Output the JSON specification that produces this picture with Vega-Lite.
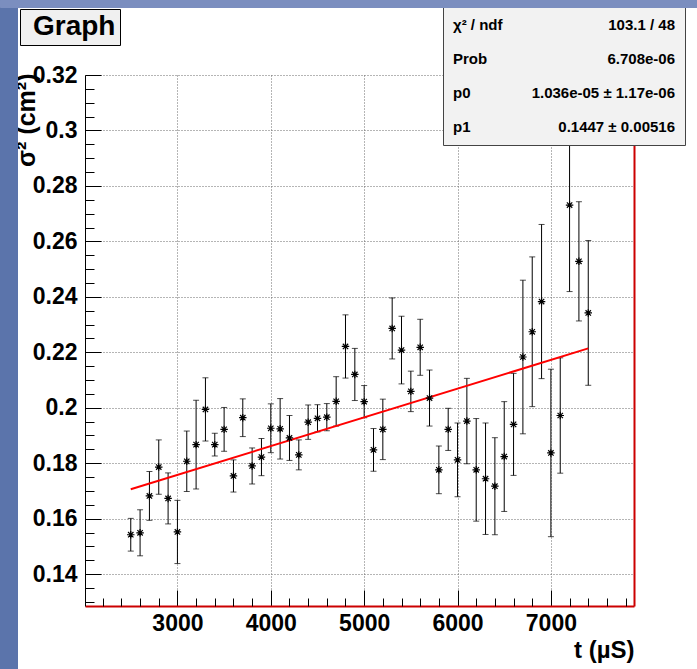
{
  "$schema": "https://vega.github.io/schema/vega-lite/v6.json",
  "width": 549,
  "height": 531,
  "autosize": {"type": "none"},
  "padding": {"left": 85, "top": 75, "right": 63, "bottom": 63},
  "background": "#ffffff",
  "config": {
    "view": {"stroke": null},
    "font": "Liberation Sans",
    "axis": {
      "labelFont": "Liberation Sans",
      "labelFontWeight": "bold",
      "labelColor": "#000000",
      "titleFont": "Liberation Sans",
      "titleFontWeight": "bold",
      "titleColor": "#000000",
      "tickColor": "#000000",
      "domainColor": "#000000",
      "gridColor": "#6a6a6a",
      "gridDash": [1, 2],
      "gridWidth": 1
    },
    "legend": {
      "labelFont": "Liberation Sans",
      "labelFontWeight": "bold",
      "labelColor": "#000000"
    }
  },
  "datasets": {
    "pts": [
      {"t": 2500, "s2": 0.1542, "err": 0.0059},
      {"t": 2600, "s2": 0.1549, "err": 0.0083},
      {"t": 2700, "s2": 0.1682, "err": 0.0088},
      {"t": 2800, "s2": 0.1786, "err": 0.0098},
      {"t": 2900, "s2": 0.1673, "err": 0.0092},
      {"t": 3000, "s2": 0.1552, "err": 0.0114},
      {"t": 3100, "s2": 0.1807, "err": 0.0109},
      {"t": 3200, "s2": 0.1867, "err": 0.0160},
      {"t": 3300, "s2": 0.1994, "err": 0.0114},
      {"t": 3400, "s2": 0.1867, "err": 0.0041},
      {"t": 3500, "s2": 0.1922, "err": 0.0079},
      {"t": 3600, "s2": 0.1754, "err": 0.0058},
      {"t": 3700, "s2": 0.1964, "err": 0.0068},
      {"t": 3800, "s2": 0.1790, "err": 0.0065},
      {"t": 3900, "s2": 0.1822, "err": 0.0067},
      {"t": 4000, "s2": 0.1926, "err": 0.0088},
      {"t": 4100, "s2": 0.1924, "err": 0.0109},
      {"t": 4200, "s2": 0.1891, "err": 0.0081},
      {"t": 4300, "s2": 0.1830, "err": 0.0054},
      {"t": 4400, "s2": 0.1948, "err": 0.0062},
      {"t": 4500, "s2": 0.1962, "err": 0.0049},
      {"t": 4600, "s2": 0.1966, "err": 0.0049},
      {"t": 4700, "s2": 0.2023, "err": 0.0089},
      {"t": 4800, "s2": 0.2221, "err": 0.0114},
      {"t": 4900, "s2": 0.2120, "err": 0.0094},
      {"t": 5000, "s2": 0.2022, "err": 0.0058},
      {"t": 5100, "s2": 0.1848, "err": 0.0077},
      {"t": 5200, "s2": 0.1922, "err": 0.0109},
      {"t": 5300, "s2": 0.2286, "err": 0.0110},
      {"t": 5400, "s2": 0.2208, "err": 0.0122},
      {"t": 5500, "s2": 0.2059, "err": 0.0073},
      {"t": 5600, "s2": 0.2218, "err": 0.0101},
      {"t": 5700, "s2": 0.2035, "err": 0.0101},
      {"t": 5800, "s2": 0.1776, "err": 0.0086},
      {"t": 5900, "s2": 0.1922, "err": 0.0076},
      {"t": 6000, "s2": 0.1812, "err": 0.0133},
      {"t": 6100, "s2": 0.1952, "err": 0.0154},
      {"t": 6200, "s2": 0.1776, "err": 0.0185},
      {"t": 6300, "s2": 0.1744, "err": 0.0201},
      {"t": 6400, "s2": 0.1717, "err": 0.0175},
      {"t": 6500, "s2": 0.1824, "err": 0.0198},
      {"t": 6600, "s2": 0.1940, "err": 0.0184},
      {"t": 6700, "s2": 0.2183, "err": 0.0277},
      {"t": 6800, "s2": 0.2274, "err": 0.0270},
      {"t": 6900, "s2": 0.2383, "err": 0.0278},
      {"t": 7000, "s2": 0.1837, "err": 0.0302},
      {"t": 7100, "s2": 0.1972, "err": 0.0208},
      {"t": 7200, "s2": 0.2731, "err": 0.0312},
      {"t": 7300, "s2": 0.2528, "err": 0.0215},
      {"t": 7400, "s2": 0.2342, "err": 0.0261}
    ],
    "fit": [
      {"t": 2500, "fit": 0.1706},
      {"t": 7400, "fit": 0.2214}
    ],
    "stats": [
      {"stat": "χ² / ndf", "val": "103.1 / 48"},
      {"stat": "Prob", "val": "6.708e-06"},
      {"stat": "p0", "val": "1.036e-05 ± 1.17e-06"},
      {"stat": "p1", "val": "0.1447 ± 0.00516"}
    ],
    "gtitle": [
      {"name": "Graph"}
    ],
    "frame": [
      {"side": "left"}
    ],
    "frametop": [
      {"side": "top"}
    ]
  },
  "resolve": {"axis": {"x": "independent", "y": "independent"}},
  "layer": [
    {
      "data": {"name": "pts"},
      "mark": {"type": "errorbar", "color": "#000000", "thickness": 1, "ticks": {"size": 6, "thickness": 1, "color": "#000000"}},
      "encoding": {
        "x": {
          "field": "t", "type": "quantitative",
          "scale": {"domain": [2010, 7890], "nice": false, "zero": false},
          "axis": {
            "orient": "bottom",
            "values": [3000, 4000, 5000, 6000, 7000],
            "format": "d",
            "grid": true,
            "tickSize": -16,
            "tickWidth": 1,
            "labelFontSize": 23,
            "labelPadding": 22,
            "domainColor": "#cc0000",
            "domainWidth": 2,
            "title": "t (µS)",
            "titleFontSize": 24,
            "titleAlign": "right",
            "titleBaseline": "alphabetic",
            "titleX": 549,
            "titleY": 51
          }
        },
        "y": {
          "field": "s2", "type": "quantitative",
          "scale": {"domain": [0.1285, 0.32], "nice": false, "zero": false},
          "axis": {
            "orient": "left",
            "values": [0.14, 0.16, 0.18, 0.2, 0.22, 0.24, 0.26, 0.28, 0.3, 0.32],
            "format": ".2~f",
            "grid": true,
            "tickSize": -16,
            "tickWidth": 1,
            "labelFontSize": 23,
            "labelPadding": 24,
            "domainWidth": 1,
            "title": "σ² (cm²)",
            "titleFontSize": 25,
            "titleAngle": -90,
            "titleAlign": "right",
            "titleBaseline": "alphabetic",
            "titleX": -51,
            "titleY": -2
          }
        },
        "yError": {"field": "err"}
      }
    },
    {
      "data": {"name": "fit"},
      "mark": {"type": "line", "color": "#ff0000", "strokeWidth": 2},
      "encoding": {
        "x": {
          "field": "t", "type": "quantitative",
          "axis": {
            "orient": "bottom",
            "values": [2200, 2400, 2600, 2800, 3200, 3400, 3600, 3800, 4200, 4400, 4600, 4800, 5200, 5400, 5600, 5800, 6200, 6400, 6600, 6800, 7200, 7400, 7600, 7800],
            "tickSize": -8,
            "labels": false,
            "domain": false,
            "grid": false,
            "title": null
          }
        },
        "y": {
          "field": "fit", "type": "quantitative",
          "axis": {
            "orient": "left",
            "values": [0.13, 0.135, 0.145, 0.15, 0.155, 0.165, 0.17, 0.175, 0.185, 0.19, 0.195, 0.205, 0.21, 0.215, 0.225, 0.23, 0.235, 0.245, 0.25, 0.255, 0.265, 0.27, 0.275, 0.285, 0.29, 0.295, 0.305, 0.31, 0.315],
            "tickSize": -9,
            "labels": false,
            "domain": false,
            "grid": false,
            "title": null
          }
        }
      }
    },
    {
      "data": {"name": "pts"},
      "mark": {
        "type": "point",
        "shape": "M-1,0L1,0M0,-1L0,1M-0.72,-0.72L0.72,0.72M-0.72,0.72L0.72,-0.72",
        "filled": false,
        "stroke": "#000000",
        "strokeWidth": 1.2,
        "size": 56,
        "opacity": 1
      },
      "encoding": {
        "x": {"field": "t", "type": "quantitative", "axis": null},
        "y": {
          "field": "s2", "type": "quantitative",
          "axis": {
            "orient": "right",
            "domainColor": "#cc0000",
            "domainWidth": 2,
            "ticks": false,
            "labels": false,
            "grid": false,
            "title": null
          }
        }
      }
    },
    {
      "data": {"name": "stats"},
      "mark": {"type": "point", "opacity": 0},
      "encoding": {
        "color": {
          "field": "val", "type": "nominal",
          "sort": ["103.1 / 48", "6.708e-06", "1.036e-05 ± 1.17e-06", "0.1447 ± 0.00516"],
          "scale": {"range": ["#000000"]},
          "legend": {
            "orient": "none",
            "legendX": 358,
            "legendY": -68,
            "title": null,
            "labelFontSize": 15,
            "labelAlign": "right",
            "labelOffset": 207,
            "labelLimit": 0,
            "symbolOpacity": 0,
            "symbolSize": 0,
            "symbolStrokeWidth": 0,
            "rowPadding": 18,
            "padding": 10,
            "fillColor": "#f2f2f2",
            "strokeColor": "#444444"
          }
        }
      }
    },
    {
      "data": {"name": "stats"},
      "mark": {"type": "point", "opacity": 0},
      "encoding": {
        "shape": {
          "field": "stat", "type": "nominal",
          "sort": ["χ² / ndf", "Prob", "p0", "p1"],
          "legend": {
            "orient": "none",
            "legendX": 343,
            "legendY": -68,
            "title": null,
            "labelFontSize": 15,
            "labelAlign": "left",
            "labelOffset": 0,
            "labelLimit": 0,
            "symbolOpacity": 0,
            "symbolSize": 0,
            "symbolStrokeWidth": 0,
            "rowPadding": 18,
            "padding": 10
          }
        }
      }
    },
    {
      "data": {"name": "gtitle"},
      "mark": {"type": "point", "opacity": 0},
      "encoding": {
        "fill": {
          "field": "name", "type": "nominal",
          "scale": {"range": ["#000000"]},
          "legend": {
            "orient": "none",
            "legendX": -65,
            "legendY": -66,
            "title": null,
            "labelFontSize": 28,
            "labelOffset": -19,
            "labelLimit": 0,
            "labelExpr": "datum.label + '\u00a0'",
            "symbolOpacity": 0,
            "symbolSize": 0,
            "symbolStrokeWidth": 0,
            "padding": 4,
            "fillColor": "#f0f0f0",
            "strokeColor": "#000000"
          }
        }
      }
    },
    {
      "data": {"name": "frame"},
      "mark": {"type": "point", "opacity": 0},
      "encoding": {
        "stroke": {
          "field": "side", "type": "nominal",
          "scale": {"range": ["#5b74ab"]},
          "legend": {
            "orient": "none",
            "legendX": -85,
            "legendY": -75,
            "title": "\u200b",
            "titleFontSize": 1,
            "titlePadding": 709,
            "labelFontSize": 1,
            "labelOffset": 0,
            "labelLimit": 0,
            "labelExpr": "'\u200b'",
            "symbolOpacity": 0,
            "symbolSize": 0.01,
            "symbolStrokeWidth": 0.01,
            "padding": 8,
            "fillColor": "#5b74ab",
            "strokeColor": "#5b74ab"
          }
        }
      }
    },
    {
      "data": {"name": "frametop"},
      "mark": {"type": "point", "opacity": 0},
      "encoding": {
        "strokeDash": {
          "field": "side", "type": "nominal",
          "legend": {
            "orient": "none",
            "legendX": -85,
            "legendY": -75,
            "title": null,
            "labelFontSize": 1,
            "labelOffset": 690,
            "labelLimit": 0,
            "labelExpr": "'\u200b'",
            "symbolOpacity": 0,
            "symbolSize": 0.01,
            "symbolStrokeWidth": 0.01,
            "padding": 3,
            "fillColor": "#7b8ebf",
            "strokeColor": "#7b8ebf"
          }
        }
      }
    }
  ]
}
